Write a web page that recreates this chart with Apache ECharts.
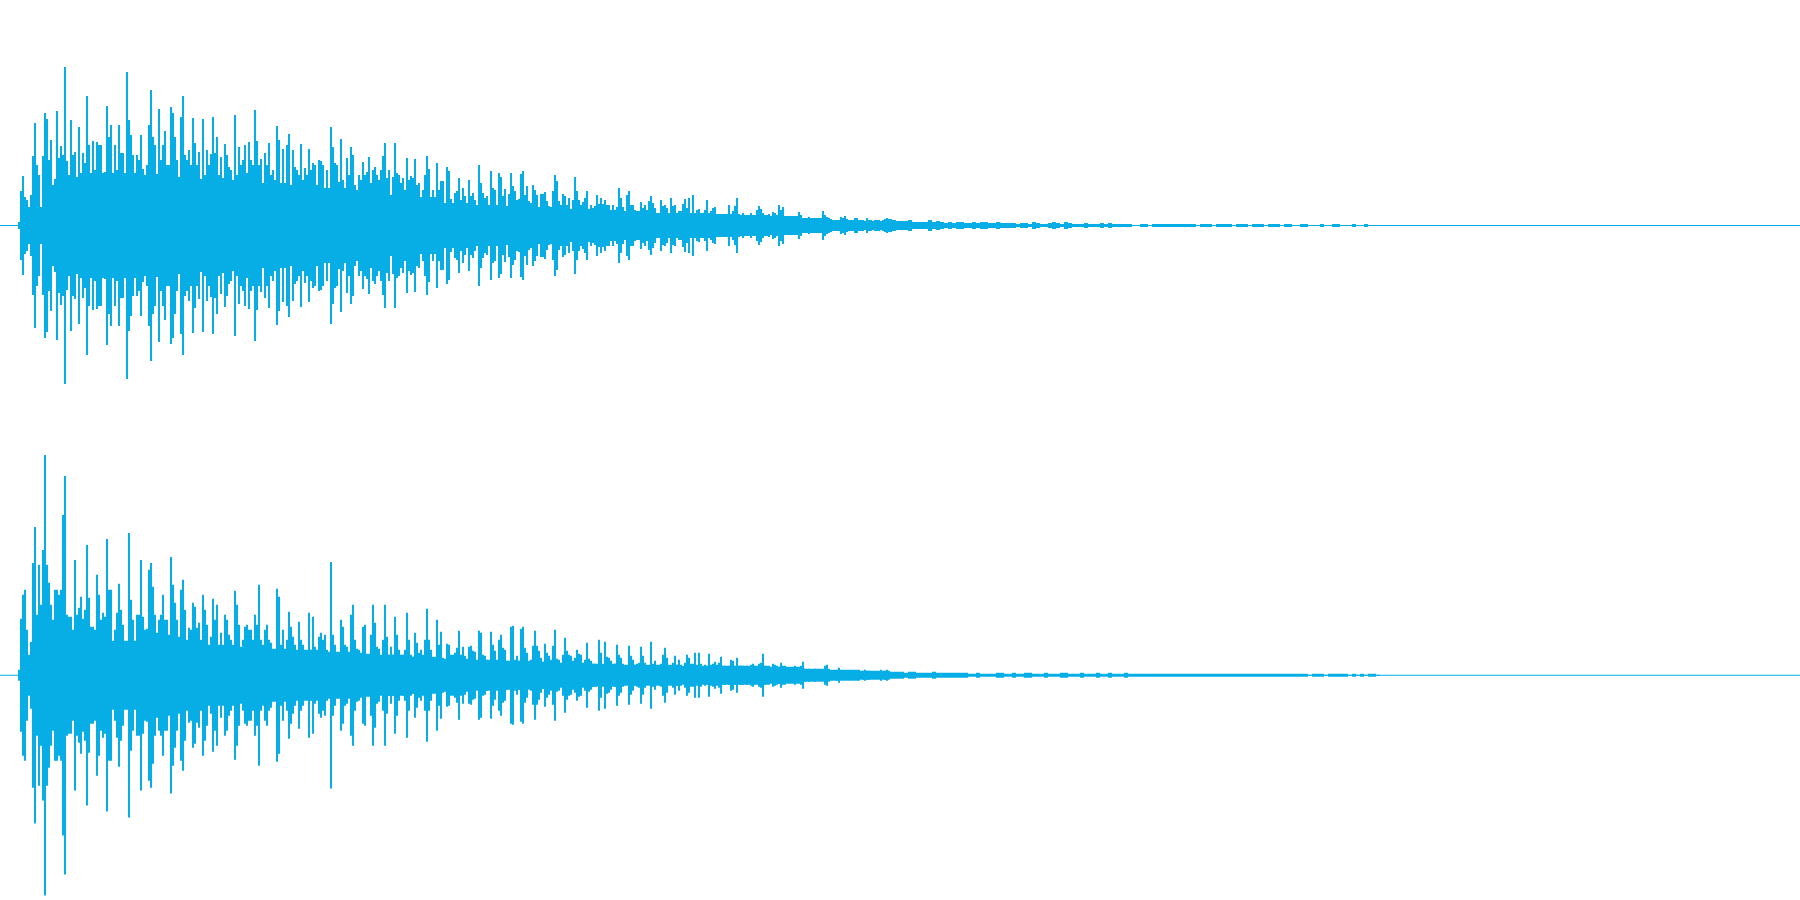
<!DOCTYPE html>
<html><head><meta charset="utf-8">
<style>html,body{margin:0;padding:0;background:#fff}#c{width:1800px;height:900px}</style>
<script src="https://cdn.jsdelivr.net/npm/echarts@6/dist/echarts.min.js"></script>
</head><body><div id="c"></div>
<script>
// Peak amplitude per time column (waveform is symmetric around zero).
const nearStart = 18, nearStep = 2, farStart = 892, farStep = 4, coreStart = 20, coreStep = 30;
const AXIS_MAX = 225, TIME_MAX = 1800;
const baseline = [0, TIME_MAX];

const channel1Near = [
3,34,49,28,25,15,30,69,102,60,50,15,69,112,106,65,85,40,46,114,67,79,70,158,64,50,105,70,73,48,98,45,72,62,129,80,45,84,55,83,80,80,46,53,119,88,100,45,80,55,100,72,72,40,153,105,90,70,46,70,65,90,56,40,60,100,135,88,80,51,116,65,80,94,60,60,118,112,88,65,26,108,129,70,65,75,60,107,82,60,73,30,106,50,75,60,71,108,72,88,50,68,47,81,70,58,55,30,110,50,78,60,65,80,52,83,65,60,115,84,60,66,32,72,60,82,50,55,45,99,85,40,76,30,80,91,40,75,58,55,50,81,45,57,50,76,55,62,60,33,65,64,60,30,55,32,98,78,62,60,43,86,45,32,67,50,78,70,40,35,50,45,63,50,53,68,42,55,58,50,45,55,69,82,47,55,20,48,82,52,50,42,47,35,67,45,49,47,66,40,42,28,35,50,69,56,24,35,28,62,35,44,44,15,58,54,
26,20,32,34,47,25,37,29,17,45,29,32,25,15,60,42,32,27,29,14,54,37,35,19,52,48,29,36,17,31,52,39,34,25,26,51,54,30,39,24,22,40,35,30,17,31,31,33,24,19,15,34,50,44,24,20,31,29,20,27,15,25,48,34,25,20,23,27,34,13,20,17,19,30,21,27,21,25,20,20,14,20,12,18,37,27,18,14,30,34,20,20,15,10,14,23,17,20,15,24,29,22,17,11,11,25,19,20,17,10,27,19,20,9,14,14,21,26,17,27,12,30,10,15,16,12,9,15,25,10,14,17,18,10,11,10,10,10,9,20,11,14,19,27,10,9,12,9,10,9,12,9,5,15,19,16,12,10,6,11,9,13,12,10,20,15,18,6,8,9,9,6,9,5,13,10,7,5,5,8,7,7,6,5,7,5,14,10,8,4,6,5,5,5,5,8,7,9,6,5,4,5,7,7,4,5,5,4,7,5,5,4,5,5,5,3,5,6,7,6,6];

const channel1Far = [
5,4,4,4,5,3,3,3,3,5,3,4,3,2,3,2,3,3,2,2,3,2,3,3,2,2,3,2,2,2,2,1,2,2,1,3,2,1,1,2,3,2,1,3,2,1,1,1,2,1,1,1,2,1,2,1,1,1,1,1,0,0,1,1,0,1,1,1,1,1,1,1,1,1,1,1,0,1,1,1,0,1,1,1,1,0,1,1,1,0,1,1,1,0,1,1,1,0,1,1,0,0,1,1,0,0,0,1,0,0,1,1,0,0,0,1,0,0,1,0];

const channel1Core = [18,40,52,52,50,48,46,45,42,40,37,34,30,28,22,20,19,18,16,15,14,12,12,11,10,9,7,5,4];

const channel2Near = [
5,56,80,85,45,20,33,112,148,60,110,70,125,220,110,92,70,55,85,85,80,85,160,199,60,58,58,45,115,60,67,78,56,65,130,77,48,48,45,100,80,55,62,58,136,85,85,25,45,62,91,65,50,30,25,142,75,55,30,60,60,115,58,45,46,105,112,88,60,42,55,60,80,55,55,40,118,90,72,55,38,85,95,65,35,47,45,72,68,47,52,35,80,65,50,30,38,76,55,70,30,42,30,60,55,40,35,30,84,70,50,25,35,48,50,45,45,35,60,50,90,35,30,45,50,35,32,20,25,86,78,30,45,20,35,63,48,38,30,20,53,35,30,18,15,62,25,58,28,18,38,42,35,40,25,18,113,40,30,20,22,55,48,30,28,18,60,70,35,26,25,22,48,50,20,15,40,70,52,28,26,18,35,70,38,20,28,20,58,40,25,15,20,25,62,35,20,18,42,32,22,25,20,35,66,35,25,17,10,55,30,43,17,15,31,30,
20,20,22,27,44,20,28,19,11,28,29,24,23,13,44,42,20,19,15,12,43,30,24,14,35,40,27,25,14,13,48,49,15,19,14,46,48,27,22,11,15,29,44,29,24,17,13,31,22,19,15,29,45,16,15,11,20,37,24,20,19,14,17,25,21,20,10,15,32,16,14,11,11,10,35,22,10,33,18,17,14,10,11,30,20,17,11,9,9,29,19,15,10,11,12,28,19,12,7,9,33,11,14,7,6,11,20,27,17,9,9,12,19,10,15,10,7,12,20,17,11,11,22,10,22,11,7,10,9,21,10,11,13,10,12,18,9,9,7,9,15,14,9,17,9,9,9,7,9,7,10,11,9,5,11,12,21,9,8,5,7,11,10,9,8,12,9,9,5,5,6,7,9,7,7,9,13,6,5,6,5,5,6,5,5,5,5,9,10,5,3,3,3,5,7,4,4,4,4,4,3,3,4,3,3,3,4,5,4,4,3,3,3,3,3,5,3,4,5,3,3];

const channel2Far = [
3,3,3,2,3,3,2,2,2,2,3,2,2,2,2,2,2,2,2,1,1,2,1,1,1,1,2,2,1,1,2,1,1,2,2,1,1,1,2,1,1,1,2,2,1,1,1,2,1,1,1,2,1,1,2,1,1,1,2,1,1,1,1,1,1,1,1,1,1,1,1,1,1,1,1,1,1,1,1,1,1,1,1,1,1,1,1,1,1,1,1,1,1,1,1,1,1,1,1,1,1,1,1,1,0,1,1,1,0,1,1,1,1,1,0,1,0,1,0,1,1,0];

const channel2Core = [15,32,36,34,32,30,28,28,26,25,23,21,20,18,16,15,14,13,12,11,10,10,9,9,9,8,6,5,4];

function columns(near, far, core) {
  const out = core.map((a, i) => [coreStart + i * coreStep, a, coreStep]);
  near.forEach((a, i) => out.push([nearStart + i * nearStep, a, nearStep]));
  far.forEach((a, i) => out.push([farStart + i * farStep, a, farStep]));
  return out;
}
const COLOR = '#07aee6';
function renderColumn(params, api) {
  const x = api.value(0), a = api.value(1) + 0.5, w = api.value(2);
  const p0 = api.coord([x, a]), p1 = api.coord([x + w, -a]);
  return { type: 'rect', shape: { x: p0[0], y: p0[1], width: p1[0] - p0[0], height: p1[1] - p0[1] },
           style: { fill: COLOR } };
}
const xAxisBase = { type: 'value', min: 0, max: TIME_MAX, show: false };
const yAxisBase = { type: 'value', min: -AXIS_MAX, max: AXIS_MAX, show: false };
function wave(idx, near, far, core) {
  return [
    { type: 'line', xAxisIndex: idx, yAxisIndex: idx, data: baseline.map(t => [t, 0]), symbol: 'none', silent: true,
      lineStyle: { color: COLOR, width: 1 }, animation: false },
    { type: 'custom', xAxisIndex: idx, yAxisIndex: idx, data: columns(near, far, core), renderItem: renderColumn,
      encode: { x: 0, y: 1 }, silent: true, animation: false, clip: false }
  ];
}
const chart = echarts.init(document.getElementById('c'), null, { renderer: 'canvas' });
chart.setOption({
  animation: false,
  backgroundColor: '#ffffff',
  grid: [
    { left: 0, width: 1800, top: 0.5, height: 450 },
    { left: 0, width: 1800, top: 450.5, height: 450 }
  ],
  xAxis: [Object.assign({ gridIndex: 0 }, xAxisBase), Object.assign({ gridIndex: 1 }, xAxisBase)],
  yAxis: [Object.assign({ gridIndex: 0 }, yAxisBase), Object.assign({ gridIndex: 1 }, yAxisBase)],
  series: [...wave(0, channel1Near, channel1Far, channel1Core), ...wave(1, channel2Near, channel2Far, channel2Core)]
});
</script></body></html>
